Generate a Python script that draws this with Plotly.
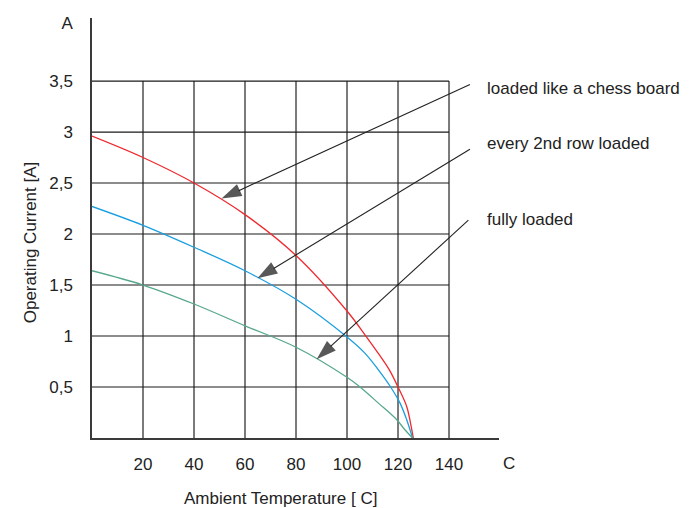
import plotly.graph_objects as go

# ---- data ----
temp_red = [0, 20, 40, 60, 80, 100, 107.4, 112.2, 116.6, 120, 123.4, 124.9, 126]
cur_red = [2.96, 2.75, 2.50, 2.19, 1.79, 1.245, 1.0, 0.832, 0.668, 0.50, 0.309, 0.147, 0.0]

temp_blue = [0, 20, 40, 60, 80, 100, 107.0, 112.3, 117.1, 120.8, 123.4, 125.7]
cur_blue = [2.27, 2.085, 1.87, 1.64, 1.36, 0.99, 0.832, 0.668, 0.50, 0.342, 0.179, 0.0]

temp_green = [0, 20, 40, 60, 80, 100, 105.1, 112.3, 119.5, 122.7, 125.7]
cur_green = [1.64, 1.50, 1.314, 1.10, 0.89, 0.595, 0.50, 0.342, 0.179, 0.081, 0.0]

x_ticks = [20, 40, 60, 80, 100, 120, 140]
x_ticklabels = ["20", "40", "60", "80", "100", "120", "140"]
y_ticks = [0.5, 1.0, 1.5, 2.0, 2.5, 3.0, 3.5, 4.07]
y_ticklabels = ["0,5", "1", "1,5", "2", "2,5", "3", "3,5", "A"]

grid_x_max = 140
grid_y_max = 3.5

labels = ["loaded like a chess board", "every 2nd row loaded", "fully loaded"]
label_x = [154.0, 154.0, 154.0]
label_y = [3.43, 2.885, 2.145]
arrow_tail_x = [148.2, 148.2, 147.6]
arrow_tail_y = [3.467, 2.831, 2.136]
arrow_head_x = [50.8, 64.9, 88.1]
arrow_head_y = [2.348, 1.566, 0.773]

x_title = "Ambient Temperature [ C]"
y_title = "Operating Current [A]"
x_unit = "C"

FONT = "Liberation Sans, Arial, sans-serif"
TXT = "#222222"
FS = 17

fig = go.Figure()

# grid
shapes = []
for xv in x_ticks:
    shapes.append(dict(type="line", xref="x", yref="y", x0=xv, x1=xv, y0=0, y1=grid_y_max,
                       line=dict(color="#7a7a7a", width=2), layer="below"))
for yv in y_ticks:
    if yv <= grid_y_max:
        shapes.append(dict(type="line", xref="x", yref="y", x0=0, x1=grid_x_max, y0=yv, y1=yv,
                           line=dict(color="#1a1a1a", width=1.2), layer="below"))

# curves
for xs, ys, col in [(temp_red, cur_red, "#ee2a2f"),
                    (temp_blue, cur_blue, "#1a9ee0"),
                    (temp_green, cur_green, "#56a88a")]:
    fig.add_trace(go.Scatter(x=xs, y=ys, mode="lines",
                             line=dict(color=col, width=1.3, shape="spline", smoothing=1.0),
                             hoverinfo="skip", showlegend=False, cliponaxis=False))

# arrows
for tx, ty, hx, hy in zip(arrow_tail_x, arrow_tail_y, arrow_head_x, arrow_head_y):
    fig.add_trace(go.Scatter(x=[tx, hx], y=[ty, hy], mode="lines+markers",
                             line=dict(color="#222222", width=1.1),
                             marker=dict(symbol=["circle", "arrow"], size=[0, 21],
                                         color="#111111", angleref="previous",
                                         line=dict(width=0)),
                             hoverinfo="skip", showlegend=False, cliponaxis=False))

annotations = []
for t, lx, ly in zip(labels, label_x, label_y):
    annotations.append(dict(x=lx, y=ly, xref="x", yref="y", text=t, showarrow=False,
                            xanchor="left", yanchor="middle",
                            font=dict(family=FONT, size=FS, color=TXT)))
annotations.append(dict(x=1.0256, y=0, xref="paper", yref="paper", text=x_unit, showarrow=False,
                        xanchor="center", yanchor="middle", yshift=-25,
                        font=dict(family=FONT, size=FS, color=TXT)))
annotations.append(dict(x=0.4636, y=0, xref="paper", yref="paper", text=x_title, showarrow=False,
                        xanchor="center", yanchor="middle", yshift=-60,
                        font=dict(family=FONT, size=FS, color=TXT)))
annotations.append(dict(x=0, y=0.466, xref="paper", yref="paper", text=y_title, showarrow=False,
                        xanchor="center", yanchor="middle", xshift=-62, textangle=-90,
                        font=dict(family=FONT, size=FS, color=TXT)))

fig.update_layout(
    width=694, height=508,
    margin=dict(l=92, r=195, t=18, b=70),
    paper_bgcolor="white", plot_bgcolor="white",
    shapes=shapes, annotations=annotations,
    showlegend=False,
    xaxis=dict(range=[0, 159.6], tickvals=x_ticks, ticktext=x_ticklabels,
               showgrid=False, zeroline=False, showline=True, linecolor="#3a3a3a", linewidth=1.5,
               ticks="outside", ticklen=10, tickcolor="rgba(0,0,0,0)",
               tickfont=dict(family=FONT, size=FS, color=TXT), fixedrange=True),
    yaxis=dict(range=[0, 4.118], tickvals=y_ticks, ticktext=y_ticklabels,
               showgrid=False, zeroline=False, showline=True, linecolor="#3a3a3a", linewidth=1.5,
               ticks="outside", ticklen=14, tickcolor="rgba(0,0,0,0)",
               tickfont=dict(family=FONT, size=FS, color=TXT), fixedrange=True),
)

fig.write_html("out.html", config={"displayModeBar": False},
               post_script="document.body.style.margin='0px';")
